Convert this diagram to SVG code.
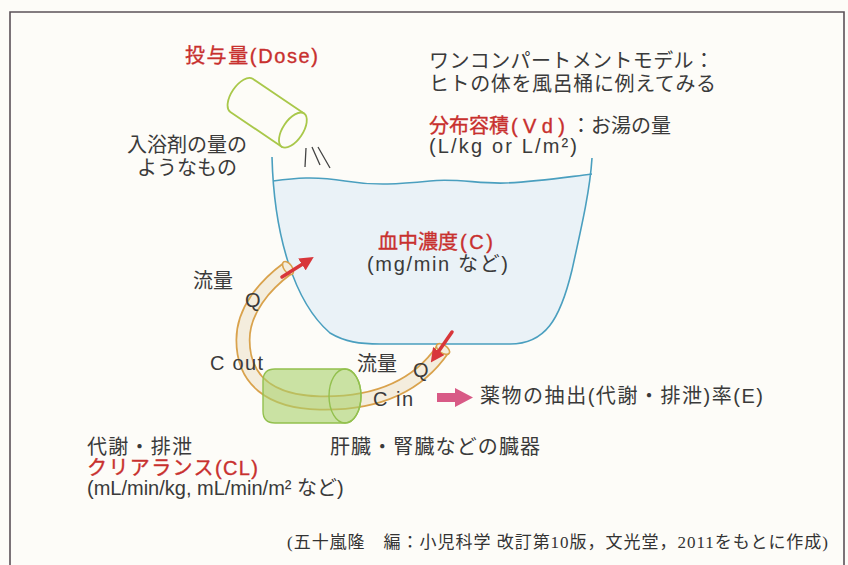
<svg xmlns="http://www.w3.org/2000/svg" width="848" height="565" viewBox="0 0 848 565">
  <style>
    text { font-family: "Liberation Sans", "Noto Sans CJK JP", sans-serif; fill: #3a3a3a; font-size: 20px; }
    .red { fill: #c8302e; stroke: #c8302e; stroke-width: 0.35; }
    .cite { font-family: "Liberation Serif", "Noto Sans CJK JP", serif; font-size: 17px; fill: #333; }
    .tub { fill: none; stroke: #4a9fbf; stroke-width: 1.6; }
    .dose { fill: #fdfcf7; stroke: #a9c84a; stroke-width: 1.8; }
    .flow { fill: none; stroke: #d8363a; stroke-width: 3.5; stroke-linecap: round; marker-end: url(#redHead); }
  </style>
  <defs>
    <marker id="redHead" viewBox="0 0 10 10" refX="6" refY="5" markerWidth="4" markerHeight="4" orient="auto" markerUnits="strokeWidth">
      <path d="M0,0 L10,5 L0,10 Z" fill="#d8363a"/>
    </marker>
    <clipPath id="tubClip">
      <path d="M272,157 C274,235 294,302 330,333 C345,342 360,344 380,344 L510,344 C545,344 560,320 572,270 C582,225 590,190 592,158 Z"/>
    </clipPath>
  </defs>

  <!-- paper and frame -->
  <rect width="848" height="565" fill="#fdfcf8"/>
  <path d="M10,565 V12 H844 V565" fill="none" stroke="#5b5158" stroke-width="1.6"/>

  <!-- dose container pouring into the bath -->
  <g id="dose">
    <text class="red" x="185" y="63" textLength="133">投与量(Dose)</text>
    <g transform="translate(241.5,95.4) rotate(34)">
      <path class="dose" d="M0,-20 L62,-20 L62,20 L0,20 A10,20 0 0 1 0,-20 Z"/>
      <ellipse class="dose" cx="62" cy="0" rx="10" ry="20"/>
    </g>
    <path d="M306,148 L305,167 M312,147 L320,165 M318,147 L330,168" stroke="#444" stroke-width="1.3" fill="none"/>
  </g>

  <g id="dose-note">
    <text x="187" y="152" text-anchor="middle">入浴剤の量の</text>
    <text x="187" y="175" text-anchor="middle">ようなもの</text>
  </g>

  <g id="model-title">
    <text x="429" y="68" textLength="285">ワンコンパートメントモデル：</text>
    <text x="429" y="91" textLength="287">ヒトの体を風呂桶に例えてみる</text>
  </g>

  <g id="volume">
    <text class="red" x="429" y="133">分布容積</text>
    <text class="red" x="511" y="133" font-size="21" textLength="54">(Vd)</text>
    <text x="571" y="133">：お湯の量</text>
    <text x="429" y="153" font-size="20" textLength="148">(L/kg or L/m²)</text>
  </g>

  <!-- bath tub with water -->
  <g id="tub">
    <path clip-path="url(#tubClip)" fill="#eaf2f7" d="M272,181 C295,178 315,176 345,181 C375,186 400,184 430,181 C455,178 480,184 505,183 C535,182 560,178 593,174 L600,360 L260,360 Z"/>
    <path class="tub" d="M273,181 C295,178 315,176 345,181 C375,186 400,184 430,181 C455,178 480,184 505,183 C535,182 560,178 592,174"/>
    <path class="tub" d="M272,157 C274,235 294,302 330,333 C345,342 360,344 380,344 L510,344 C545,344 560,320 572,270 C582,225 590,190 592,158"/>
  </g>

  <g id="concentration">
    <text class="red" x="378" y="249">血中濃度</text>
    <text class="red" x="460" y="249" font-size="21" textLength="33">(C)</text>
    <text x="367" y="271" font-size="21" textLength="141">(mg/min など)</text>
  </g>

  <!-- circulation tube and flows -->
  <g id="connectors">
    <path d="M288,268 C265,285 243,310 243,340 C243,380 270,402 320,403 C370,404 415,390 443,349" fill="none" stroke="#d9a24c" stroke-width="15"/>
    <path d="M288,268 C265,285 243,310 243,340 C243,380 270,402 320,403 C370,404 415,390 443,349" fill="none" stroke="#f4eddd" stroke-width="11.5"/>
    <ellipse cx="288" cy="268" rx="4" ry="7.5" transform="rotate(-36 288 268)" fill="#f4eddd" stroke="#d9a24c" stroke-width="1.6"/>
    <ellipse cx="443" cy="349" rx="4" ry="7.5" transform="rotate(-56 443 349)" fill="#f4eddd" stroke="#d9a24c" stroke-width="1.6"/>
    <path class="flow" d="M282,277 L309,260"/>
    <path class="flow" d="M452,332 L434,358"/>
    <path d="M437,393 H455 V388 L473,397.5 L455,407 V402 H437 Z" fill="#d85a86"/>
  </g>

  <!-- organ -->
  <g id="organ">
    <path d="M275,369 L345,369 A16,27 0 0 1 345,423 L275,423 Q263,423 263,411 L263,381 Q263,369 275,369 Z" fill="#a9d06a" fill-opacity="0.6" stroke="#93c04e" stroke-width="1.4"/>
    <ellipse cx="345" cy="396" rx="16" ry="27" fill="none" stroke="#93c04e" stroke-width="1.4"/>
  </g>

  <g id="flow-labels">
    <text x="193" y="288">流量</text>
    <text x="245" y="307" font-size="21">Q</text>
    <text x="210" y="370" font-size="21" textLength="53">C out</text>
    <text x="357" y="371">流量</text>
    <text x="413" y="377" font-size="21">Q</text>
    <text x="373" y="406" font-size="21" textLength="40">C in</text>
  </g>

  <g id="extraction">
    <text x="480" y="403" textLength="283">薬物の抽出(代謝・排泄)率(E)</text>
  </g>

  <g id="clearance">
    <text x="87" y="454" font-size="19" textLength="105">代謝・排泄</text>
    <text class="red" x="87" y="475" font-size="19" textLength="171">クリアランス(CL)</text>
    <text x="87" y="495" font-size="19">(mL/min/kg, mL/min/m² など)</text>
  </g>

  <g id="organ-label">
    <text x="330" y="454" textLength="210">肝臓・腎臓などの臓器</text>
  </g>

  <g id="citation">
    <text class="cite" x="287" y="548" textLength="541">(五十嵐隆　編：小児科学 改訂第10版，文光堂，2011をもとに作成)</text>
  </g>
</svg>
